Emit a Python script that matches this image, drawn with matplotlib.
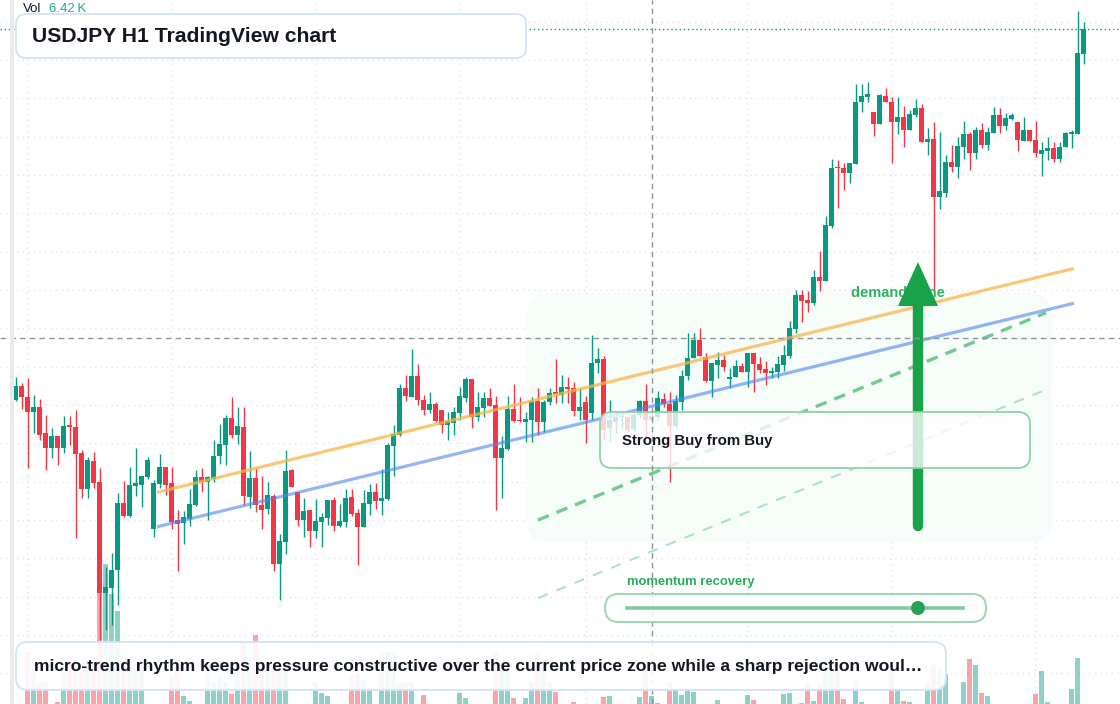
import matplotlib.pyplot as plt
import numpy as np
from matplotlib.patches import FancyBboxPatch, Polygon, Rectangle, Circle
from matplotlib.lines import Line2D
from matplotlib.transforms import Affine2D, blended_transform_factory
from matplotlib.colors import to_rgba

W, H = 1120, 704
UP = '#089981'
DOWN = '#f23645'
INK = '#131722'

# hourly candles, USDJPY
opens = [150.000, 150.035, 150.008, 149.971, 149.983, 149.918, 149.881, 149.910, 149.881, 149.938,
         149.933, 149.868, 149.778, 149.848, 149.795, 149.518, 149.530, 149.575, 149.743, 149.711,
         149.786, 149.788, 149.808, 149.678, 149.791, 149.833, 149.793, 149.700, 149.693, 149.703,
         149.738, 149.808, 149.796, 149.803, 149.860, 149.888, 149.955, 149.913, 149.933, 149.758,
         149.805, 149.738, 149.728, 149.760, 149.590, 149.645, 149.825, 149.770, 149.700, 149.725,
         149.673, 149.695, 149.705, 149.750, 149.685, 149.695, 149.758, 149.718, 149.683, 149.740,
         149.770, 149.748, 149.753, 149.885, 149.913, 150.030, 150.008, 150.060, 150.000, 149.975,
         149.990, 149.975, 149.938, 149.943, 149.968, 150.005, 150.053, 149.958, 149.980, 150.005,
         149.988, 149.855, 149.878, 149.978, 149.950, 149.945, 149.950, 149.998, 149.945, 149.995,
         150.020, 150.013, 150.033, 150.030, 149.973, 149.995, 149.968, 150.093, 150.103, 149.930,
         149.945, 149.958, 149.958, 149.928, 149.963, 149.998, 149.950, 149.958, 150.003, 149.990,
         149.935, 149.995, 150.060, 150.105, 150.150, 150.108, 150.048, 150.088, 150.100, 150.053,
         150.058, 150.085, 150.071, 150.117, 150.089, 150.077, 150.068, 150.071, 150.088, 150.110,
         150.178, 150.263, 150.250, 150.242, 150.307, 150.298, 150.436, 150.583, 150.580, 150.568,
         150.589, 150.744, 150.757, 150.719, 150.689, 150.760, 150.744, 150.694, 150.708, 150.676,
         150.713, 150.729, 150.646, 150.652, 150.508, 150.517, 150.594, 150.583, 150.633, 150.665,
         150.618, 150.675, 150.638, 150.667, 150.713, 150.685, 150.703, 150.695, 150.648, 150.675,
         150.650, 150.615, 150.623, 150.630, 150.603, 150.633, 150.666, 150.666, 150.865]
highs = [150.057, 150.043, 150.056, 150.013, 150.003, 149.963, 149.930, 149.910, 149.960, 149.960,
         149.975, 149.875, 149.858, 149.870, 149.830, 149.583, 149.618, 149.768, 149.798, 149.833,
         149.880, 149.810, 149.858, 149.800, 149.865, 149.833, 149.833, 149.725, 149.723, 149.778,
         149.825, 149.831, 149.811, 149.900, 149.940, 149.963, 150.008, 149.983, 149.983, 149.873,
         149.830, 149.810, 149.795, 149.765, 149.665, 149.875, 149.828, 149.770, 149.755, 149.725,
         149.753, 149.718, 149.750, 149.758, 149.740, 149.778, 149.778, 149.728, 149.775, 149.790,
         149.793, 149.828, 149.893, 149.938, 150.040, 150.063, 150.128, 150.090, 150.013, 150.020,
         149.995, 149.975, 149.970, 149.983, 150.033, 150.058, 150.053, 150.020, 150.020, 150.030,
         150.010, 149.910, 150.010, 150.040, 150.008, 149.970, 150.008, 150.030, 150.000, 150.030,
         150.103, 150.063, 150.058, 150.045, 150.030, 150.010, 150.163, 150.130, 150.110, 150.000,
         149.970, 149.968, 149.963, 149.968, 150.000, 150.040, 149.968, 150.023, 150.018, 150.020,
         150.013, 150.075, 150.168, 150.168, 150.180, 150.118, 150.093, 150.120, 150.113, 150.080,
         150.100, 150.093, 150.117, 150.117, 150.108, 150.098, 150.083, 150.110, 150.138, 150.198,
         150.275, 150.275, 150.273, 150.325, 150.373, 150.460, 150.603, 150.600, 150.592, 150.592,
         150.790, 150.790, 150.795, 150.719, 150.765, 150.780, 150.757, 150.757, 150.735, 150.725,
         150.753, 150.740, 150.679, 150.696, 150.671, 150.613, 150.638, 150.658, 150.698, 150.671,
         150.683, 150.692, 150.683, 150.732, 150.729, 150.717, 150.717, 150.695, 150.708, 150.675,
         150.698, 150.646, 150.658, 150.646, 150.646, 150.671, 150.675, 150.973, 150.944]
lows = [149.998, 149.977, 149.831, 149.918, 149.900, 149.825, 149.855, 149.838, 149.868, 149.888,
        149.656, 149.756, 149.756, 149.781, 149.400, 149.425, 149.438, 149.488, 149.708, 149.708,
        149.761, 149.733, 149.803, 149.658, 149.781, 149.763, 149.678, 149.573, 149.641, 149.685,
        149.735, 149.771, 149.700, 149.796, 149.841, 149.838, 149.905, 149.890, 149.738, 149.730,
        149.720, 149.678, 149.715, 149.573, 149.500, 149.615, 149.783, 149.685, 149.658, 149.633,
        149.655, 149.633, 149.688, 149.673, 149.683, 149.683, 149.710, 149.588, 149.683, 149.713,
        149.728, 149.713, 149.750, 149.810, 149.910, 149.998, 150.008, 149.988, 149.963, 149.968,
        149.945, 149.918, 149.900, 149.913, 149.950, 149.995, 149.930, 149.948, 149.958, 149.985,
        149.725, 149.755, 149.875, 149.945, 149.945, 149.895, 149.895, 149.913, 149.920, 149.988,
        149.993, 149.993, 149.993, 149.960, 149.950, 149.893, 149.950, 150.068, 149.900, 149.898,
        149.918, 149.930, 149.920, 149.923, 149.955, 149.905, 149.940, 149.950, 149.983, 149.795,
        149.930, 149.975, 150.050, 150.105, 150.110, 150.045, 150.008, 150.055, 150.073, 150.030,
        150.058, 150.071, 150.033, 150.019, 150.068, 150.038, 150.056, 150.056, 150.073, 150.106,
        150.168, 150.196, 150.221, 150.238, 150.273, 150.298, 150.429, 150.481, 150.525, 150.543,
        150.589, 150.721, 150.744, 150.661, 150.689, 150.744, 150.593, 150.664, 150.633, 150.675,
        150.708, 150.646, 150.613, 150.275, 150.478, 150.508, 150.569, 150.556, 150.603, 150.575,
        150.603, 150.629, 150.625, 150.667, 150.668, 150.675, 150.700, 150.623, 150.648, 150.648,
        150.608, 150.561, 150.600, 150.594, 150.594, 150.633, 150.629, 150.666, 150.840]
closes = [150.035, 150.008, 149.971, 149.983, 149.913, 149.881, 149.910, 149.881, 149.935, 149.933,
          149.866, 149.778, 149.850, 149.793, 149.518, 149.533, 149.575, 149.743, 149.711, 149.788,
          149.793, 149.810, 149.850, 149.793, 149.833, 149.788, 149.695, 149.691, 149.708, 149.740,
          149.808, 149.796, 149.808, 149.860, 149.890, 149.955, 149.913, 149.935, 149.760, 149.805,
          149.738, 149.725, 149.763, 149.590, 149.648, 149.823, 149.783, 149.700, 149.723, 149.673,
          149.698, 149.708, 149.750, 149.685, 149.698, 149.755, 149.715, 149.683, 149.743, 149.770,
          149.748, 149.755, 149.888, 149.915, 150.030, 150.010, 150.060, 150.000, 149.975, 149.990,
          149.948, 149.938, 149.948, 149.970, 150.010, 150.053, 149.958, 149.983, 150.005, 149.985,
          149.855, 149.880, 149.978, 149.948, 149.948, 149.953, 149.998, 149.945, 149.995, 150.018,
          150.016, 150.033, 150.028, 149.973, 149.983, 149.950, 150.093, 150.103, 149.925, 149.950,
          149.958, 149.960, 149.925, 149.963, 149.998, 149.950, 149.960, 150.005, 149.990, 149.935,
          149.998, 150.060, 150.105, 150.150, 150.110, 150.048, 150.093, 150.100, 150.083, 150.057,
          150.085, 150.071, 150.117, 150.089, 150.075, 150.068, 150.072, 150.090, 150.113, 150.179,
          150.263, 150.248, 150.242, 150.307, 150.298, 150.438, 150.581, 150.580, 150.568, 150.592,
          150.745, 150.760, 150.765, 150.689, 150.763, 150.744, 150.694, 150.707, 150.676, 150.714,
          150.729, 150.646, 150.652, 150.508, 150.523, 150.594, 150.583, 150.636, 150.665, 150.618,
          150.675, 150.638, 150.670, 150.713, 150.685, 150.706, 150.713, 150.650, 150.675, 150.648,
          150.618, 150.625, 150.630, 150.603, 150.633, 150.667, 150.668, 150.868, 150.928]
volumes_k = [0.02, 0.02, 2.6, 1.7, 1.1, 1.05, 0.02, 0.1, 2.35, 2.4,
             2.2, 2.1, 1.85, 2.05, 6.45, 7.0, 5.5, 4.65, 2.35, 1.85,
             1.7, 1.7, 0.02, 0.02, 0.02, 0.02, 1.35, 2.45, 0.4, 0.15,
             0.02, 0.02, 1.85, 1.1, 1.3, 1.1, 0.5, 1.85, 3.05, 2.35,
             3.45, 2.1, 1.55, 1.85, 1.7, 1.7, 0.02, 0.02, 0.02, 0.02,
             1.1, 0.55, 0.4, 0.02, 0.02, 0.02, 1.45, 1.55, 1.2, 0.85,
             0.02, 2.55, 2.6, 2.55, 1.1, 1.05, 1.1, 0.02, 0.45, 0.02,
             0.02, 0.02, 0.02, 0.02, 0.55, 0.3, 0.02, 0.02, 0.02, 0.02,
             2.55, 1.7, 1.7, 0.3, 0.02, 0.3, 1.1, 2.55, 1.85, 1.1,
             0.6, 0.02, 0.02, 0.1, 0.02, 0.02, 0.02, 0.02, 0.35, 0.4,
             0.02, 0.02, 0.02, 0.02, 0.37, 1.7, 0.4, 0.07, 0.02, 1.1,
             0.7, 0.45, 0.7, 0.6, 0.02, 0.02, 0.02, 0.2, 0.02, 0.02,
             0.02, 0.02, 0.45, 0.2, 0.02, 0.02, 0.02, 0.02, 0.5, 0.55,
             0.02, 0.05, 1.1, 0.15, 1.0, 2.4, 2.45, 1.6, 0.27, 0.02,
             1.2, 0.1, 0.02, 0.02, 0.02, 0.02, 1.7, 0.7, 0.15, 0.1,
             0.02, 0.02, 1.1, 1.95, 1.8, 1.5, 0.02, 0.02, 1.1, 2.25,
             1.95, 0.55, 0.4, 0.02, 0.02, 0.02, 0.02, 0.02, 0.02, 0.02,
             0.5, 1.65, 0.08, 0.02, 0.02, 0.02, 0.75, 2.3, 0.02]

# drawings anchored to (bar index, price)
trend_support_hi = ([23.55, 176.4], [149.769, 150.329])
trend_support_lo = ([23.55, 176.4], [149.683, 150.242])
projection_main = ([87.05, 171.7], [149.700, 150.218])
projection_soft = ([87.05, 172.05], [149.505, 150.028])
crosshair = (106, 150.155)
day_breaks = [1.9, 25.9, 49.9, 73.9, 95.0, 121.9, 145.9, 169.9]
grid_top, grid_step = 150.946, 0.09583

title = 'USDJPY H1 TradingView chart'
note = ('micro-trend rhythm keeps pressure constructive over the current price zone '
        'while a sharp rejection woul\u2026')

plt.rcParams['font.family'] = ['Liberation Sans', 'DejaVu Sans']

opens, highs, lows, closes = map(np.array, (opens, highs, lows, closes))
idx = np.arange(len(opens))
up = closes >= opens
colors = np.where(up, UP, DOWN)

fig = plt.figure(figsize=(W / 100, H / 100), dpi=100)
px = Affine2D().scale(1, -1).translate(0, H)  # top-left pixel space

axv = fig.add_axes([0, 0, 1, 1])
ax = axv.twinx()
axv.set_xlim(-2.62, 184.05)
ax.set_ylim(149.24, 151.0)
axv.set_ylim(0, 35.2)
for a in (ax, axv):
    a.set_axis_off()

# grid
GRID = '#e1e3e7'
hgrid = blended_transform_factory(axv.transAxes, ax.transData)
for g in grid_top - grid_step * np.arange(19):
    axv.plot([0, 1], [g, g], transform=hgrid, color=GRID, lw=1,
             ls=(0, (1, 3)), zorder=0)
for d in day_breaks:
    axv.axvline(d, color=GRID, lw=1, ls=(0, (1, 3)), zorder=0)

# volume
axv.bar(idx, volumes_k, width=0.76, color=colors, alpha=0.45, lw=0, zorder=1)

# demand zone
zone = FancyBboxPatch((527, 293), 525, 249, boxstyle='round,pad=0,rounding_size=22',
                      transform=px, fc='#f6fcf8', ec='none', zorder=0.5)
ax.add_patch(zone)

# candles
ax.vlines(idx, lows, highs, colors=colors, lw=1, zorder=3)
ax.bar(idx, np.maximum(np.abs(closes - opens), 0.003), bottom=np.minimum(opens, closes),
       width=0.78, color=colors, lw=0, zorder=4)

# last price line
ax.axhline(closes[-1], color=UP, lw=1, ls=(0, (1, 2)), zorder=2)

# trend lines
ax.plot(*trend_support_hi, color='#f6b64a', alpha=0.75, lw=2.3, solid_capstyle='butt', zorder=5)
ax.plot(*trend_support_lo, color='#4f83f0', alpha=0.6, lw=2.3, solid_capstyle='butt', zorder=5)
ax.plot(*projection_main, color='#3cb467', alpha=0.7, lw=2.4, ls=(0, (3.5, 2.5)), zorder=5)
ax.plot(*projection_soft, color='#8fd8a8', alpha=0.7, lw=1.5, ls=(0, (5, 4.5)), zorder=5)


def rbox(x, y, w, h, r, fc, ec, lw, z):
    p = FancyBboxPatch((x, y), w, h, boxstyle=f'round,pad=0,rounding_size={r}',
                       transform=px, fc=fc, ec=ec, lw=lw, zorder=z)
    fig.add_artist(p)


# demand zone label and arrow
fig.text(851, 293, 'demand zone', transform=px, color='#2fb35b', fontsize=10.5,
         fontweight='bold', va='center', ha='left', zorder=2)
fig.add_artist(Line2D([918, 918], [526, 300], transform=px, color='#18a24a', lw=7.5,
                      solid_capstyle='round', zorder=3))
fig.add_artist(Polygon([[898, 306], [938, 306], [918, 262]], closed=True, transform=px,
                       fc='#18a24a', ec='none', zorder=3))

# signal box
rbox(600, 412, 430, 56, 12, to_rgba('white', 0.78), '#8fd3a5', 1.3, 4)
fig.text(622, 441, 'Strong Buy from Buy', transform=px, color=INK, fontsize=10.85,
         fontweight='bold', va='center', ha='left', zorder=5)

# crosshair
xh, yh = crosshair
fig.add_artist(Line2D([xh, xh], [149.24, 151.0], transform=ax.transData, color='#8f939c',
                      lw=1, ls=(0, (4, 3)), zorder=6))
fig.add_artist(Line2D([-2.62, 184.05], [yh, yh], transform=ax.transData, color='#8f939c',
                      lw=1, ls=(0, (4, 3)), zorder=6))

# momentum slider
fig.text(627, 582, 'momentum recovery', transform=px, color='#27ad5a', fontsize=9.35,
         fontweight='bold', va='center', ha='left', zorder=7)
rbox(605, 594, 381, 28, 14, to_rgba('white', 0.85), '#9ad8ae', 1.4, 7)
fig.add_artist(Line2D([627, 963], [608, 608], transform=px, color='#7fcd98', lw=2.6,
                      zorder=8))
fig.add_artist(Circle((918, 608), 7, transform=px, fc='#22a356', ec='none', zorder=9))

# note box
rbox(16, 642, 930, 48, 12, to_rgba('white', 0.9), '#d3e1fa', 1.3, 10)
fig.text(34, 667, note, transform=px, color=INK, fontsize=12.6, fontweight='bold',
         va='center', ha='left', zorder=11)

# title box
rbox(16, 14, 510, 44, 10, 'white', '#d3e1fa', 1.3, 10)
fig.text(32, 36, title, transform=px, color=INK, fontsize=15.2, fontweight='bold',
         va='center', ha='left', zorder=11)

# volume legend
fig.text(23, 9, 'Vol', transform=px, color=INK, fontsize=9.5, va='center', zorder=11)
fig.text(49, 9, '6.42\u2009K', transform=px, color='#22ab94', fontsize=9.5, va='center',
         zorder=11)

# left scale edge
fig.add_artist(Rectangle((10, 0), 4, H, transform=px, fc='#e9eaec', ec='none', zorder=12))

fig.savefig('out.png', dpi=100)
